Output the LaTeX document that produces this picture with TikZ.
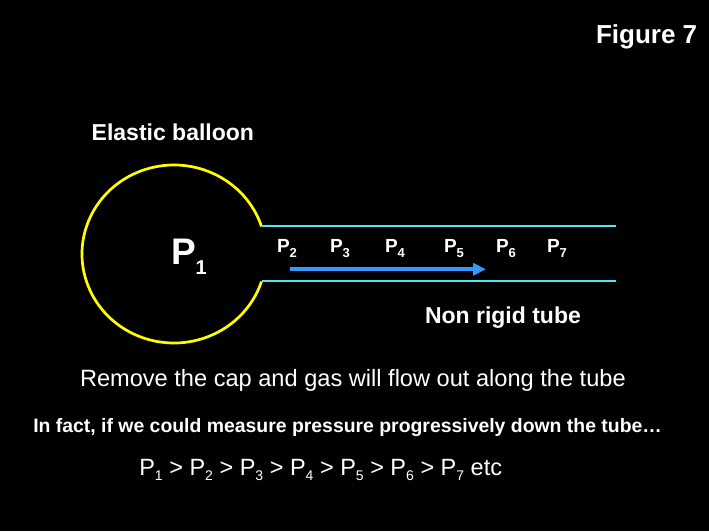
\documentclass[tikz,border=0pt]{standalone}
\usepackage{fontspec}
\setmainfont{Liberation Sans}
\usetikzlibrary{arrows.meta}
\definecolor{balloon}{RGB}{255,255,0}
\definecolor{tubecol}{RGB}{80,232,240}
\definecolor{flowcol}{RGB}{51,153,255}
\newcommand\fs[1]{\fontsize{#1}{#1}\selectfont}
% P with lowered subscript: #1 size of P, #2 sub size, #3 drop, #4 digit
\newcommand\PP[4]{{\fs{#1}P}\raisebox{-#3pt}{\fs{#2}#4}}
\begin{document}
\begin{tikzpicture}[x=1pt,y=1pt,
  txt/.style={inner sep=0pt,outer sep=0pt,anchor=base west,text=white},
  boldtxt/.style={txt,font=\bfseries},
  tubeline/.style={draw=tubecol,line width=2.3pt},
  flow/.style={draw=flowcol,line width=4pt,-{Triangle[length=13pt,width=12pt]}}]
\fill[black] (0,0) rectangle (709,531);
\useasboundingbox (0,0) rectangle (709,531);

% balloon (open at the tube mouth)
\draw[balloon,line width=2.7pt] (174,277) ++(18:92 and 89) arc[start angle=18,end angle=342,x radius=92,y radius=89];

% tube
\coordinate (t1) at (262,305);
\coordinate (t2) at (616,305);
\coordinate (b1) at (262,250);
\coordinate (b2) at (616,250);
\draw[tubeline] (t1) -- (t2);
\draw[tubeline] (b1) -- (b2);

% flow arrow
\coordinate (f1) at (290,261.7);
\coordinate (f2) at (486,261.7);
\draw[flow] (f1) -- (f2);

% labels
\node[boldtxt] (fig) at (596,487) {\fs{26}Figure 7};
\node[boldtxt] (eb) at (91.7,390.3) {\fs{23}Elastic balloon};
\node[boldtxt] (nrt) at (425,207.7) {\fs{23}Non rigid tube};
\node[boldtxt] (p1) at (171,266.7) {\PP{37}{20}{10}{1}};
\node[boldtxt] (p2) at (277,279) {\PP{19}{13}{5}{2}};
\node[boldtxt] (p3) at (330,279) {\PP{19}{13}{5}{3}};
\node[boldtxt] (p4) at (385,279) {\PP{19}{13}{5}{4}};
\node[boldtxt] (p5) at (444,279) {\PP{19}{13}{5}{5}};
\node[boldtxt] (p6) at (496,279) {\PP{19}{13}{5}{6}};
\node[boldtxt] (p7) at (547,279) {\PP{19}{13}{5}{7}};

\node[txt] (l1) at (80,144.3) {\fs{23.6}Remove the cap and gas will flow out along the tube};
\node[boldtxt] (l2) at (33.3,98.3) {\fs{19.4}In fact, if we could measure pressure progressively down the tube…};
\node[txt] (l3) at (139.3,56) {\fs{23.5}\PP{23.5}{14}{5}{1} > \PP{23.5}{14}{5}{2} > \PP{23.5}{14}{5}{3} > \PP{23.5}{14}{5}{4} > \PP{23.5}{14}{5}{5} > \PP{23.5}{14}{5}{6} > \PP{23.5}{14}{5}{7} etc};
\end{tikzpicture}
\end{document}
